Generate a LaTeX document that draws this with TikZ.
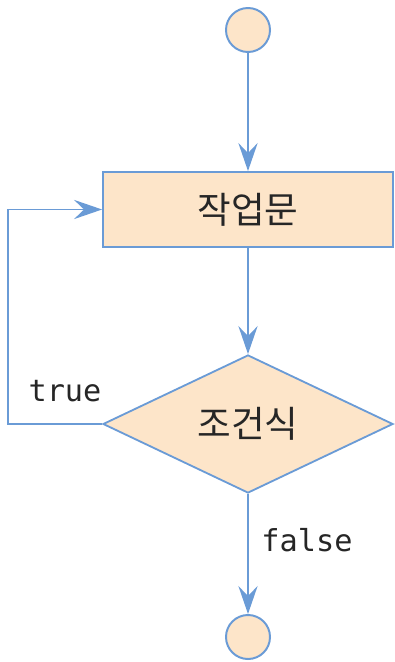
\documentclass[tikz,border=0pt]{standalone}
\usepackage{fontspec}
\setmonofont{DejaVu Sans Mono}
\newfontfamily\kr{Noto Sans CJK KR}
\usetikzlibrary{shapes.geometric,arrows.meta}
\definecolor{lineblue}{RGB}{106,155,214}
\definecolor{peach}{RGB}{253,229,201}

\begin{document}
\begin{tikzpicture}[x=0.025cm, y=-0.025cm,
  term/.style={draw=lineblue, fill=peach, circle, line width=1.4pt, minimum size=1.1cm, inner sep=0pt},
  work/.style={draw=lineblue, fill=peach, rectangle, line width=1.3pt, minimum width=7.25cm, minimum height=1.875cm, text=black!85, font=\kr\fontsize{26}{30}\selectfont},
  test/.style={draw=lineblue, fill=peach, diamond, line width=1.3pt, minimum width=7.25cm, minimum height=3.45cm, aspect=2.1, inner sep=0pt, text=black!85, font=\kr\fontsize{26}{30}\selectfont},
  flow/.style={color=lineblue, line width=1.4pt, -{Stealth[length=0.7cm,width=0.48cm,inset=0.25cm]}},
  tag/.style={text=black!85, font=\ttfamily\fontsize{21.5}{25}\selectfont}]
\useasboundingbox (0,0) rectangle (394,662);
\node[term] (start) at (248,30) {};
\node[work] (work) at (248,209.5) {작업문};
\node[test] (cond) at (248,424) {조건식};
\node[term] (stop) at (248,637) {};
\coordinate (corner) at (8,424);
\node[tag] (truetag) at (65,391) {true};
\node[tag] (falsetag) at (307,540) {false};
\path[flow] (start) edge (work);
\path[flow] (work) edge (cond);
\path[flow] (cond) edge (stop);
\draw[flow] (cond.west) -- (corner) |- (work.west);
\end{tikzpicture}
\end{document}
